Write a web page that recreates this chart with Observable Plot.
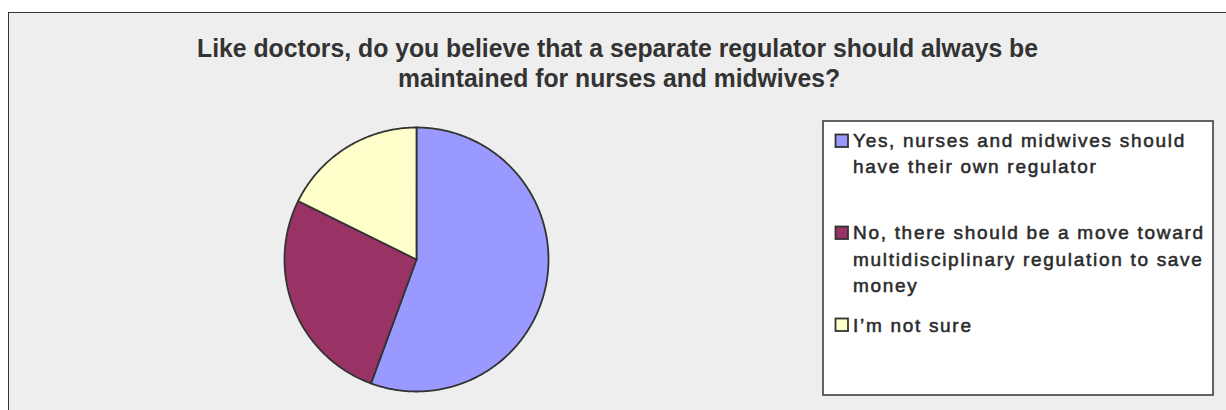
<!DOCTYPE html>
<html>
<head>
<meta charset="utf-8">
<script src="https://cdn.jsdelivr.net/npm/d3@7"></script>
<script src="https://cdn.jsdelivr.net/npm/@observablehq/plot@0.6"></script>
<style>
  html, body { margin: 0; padding: 0; background: #ffffff; }
  #root { position: relative; width: 1226px; height: 410px; overflow: hidden; font-family: "Liberation Sans", Arial, sans-serif; }
  #frame { position: absolute; left: 8px; top: 12px; width: 1240px; height: 420px; background: #eeeeee;
           border-top: 1.5px solid #333333; border-left: 1.5px solid #333333; box-sizing: border-box; }
  #pie { position: absolute; left: 266px; top: 109px; }
  #overlay { position: absolute; left: 0; top: 0; }
</style>
</head>
<body>
<div id="root">
  <div id="frame"></div>
  <div id="pie"></div>
  <svg id="overlay" width="1226" height="410"></svg>
</div>
<script>
// ---- data ----
const titleLines = [
  "Like doctors, do you believe that a separate regulator should always be",
  "maintained for nurses and midwives?"
];
const legendLines = [
  ["Yes, nurses and midwives should", "have their own regulator"],
  ["No, there should be a move toward", "multidisciplinary regulation to save", "money"],
  ["I\u2019m not sure"]
];
const categories = legendLines.map(l => l.join(" "));
const shares = [55.6, 26.7, 17.7];          // percent of respondents
const colors = ["#9999FF", "#993366", "#FFFFCC"];

// ---- pie via Plot ----
const arcs = d3.pie().sort(null).value(d => d)(shares);
const pts = [];
arcs.forEach((a, i) => {
  const cat = categories[i];
  pts.push({cat, x: 0, y: 0});
  const n = Math.max(2, Math.ceil((a.endAngle - a.startAngle) / (Math.PI / 360)));
  for (let k = 0; k <= n; k++) {
    const t = a.startAngle + (a.endAngle - a.startAngle) * k / n;
    pts.push({cat, x: Math.sin(t), y: Math.cos(t)});
  }
  pts.push({cat, x: 0, y: 0});
});

const chart = Plot.plot({
  width: 300, height: 300, margin: 18,
  x: {domain: [-1, 1], axis: null},
  y: {domain: [-1, 1], axis: null},
  color: {domain: categories, range: colors},
  style: {background: "transparent", overflow: "visible"},
  marks: [
    Plot.line(pts, {x: "x", y: "y", z: "cat", fill: "cat", stroke: "#333333", strokeWidth: 1.8, strokeLinejoin: "round", curve: "linear"})
  ]
});
document.getElementById("pie").appendChild(chart);

// ---- title & legend ----
const svg = d3.select("#overlay");
const titleSpec = [{x: 197, y: 56.7, w: 841}, {x: 398, y: 86.7, w: 442}];
titleLines.forEach((t, i) => {
  svg.append("text")
    .attr("x", titleSpec[i].x).attr("y", titleSpec[i].y)
    .attr("textLength", titleSpec[i].w).attr("lengthAdjust", "spacingAndGlyphs")
    .attr("font-family", "'Liberation Sans', Arial, sans-serif")
    .attr("font-weight", "bold").attr("font-size", 25).attr("fill", "#333333")
    .text(t);
});

svg.append("rect").attr("x", 823).attr("y", 121).attr("width", 390).attr("height", 274)
  .attr("fill", "#ffffff").attr("stroke", "#333333").attr("stroke-width", 1.5);

const swatchTop = [134.5, 226.5, 318.5];
const baseTop = [146.7, 239.3, 331.7];
legendLines.forEach((lines, i) => {
  svg.append("rect").attr("x", 835.5).attr("y", swatchTop[i]).attr("width", 12.5).attr("height", 12.5)
    .attr("fill", colors[i]).attr("stroke", "#333333").attr("stroke-width", 1.8);
  lines.forEach((ln, j) => {
    svg.append("text")
      .attr("x", 853).attr("y", baseTop[i] + j * 26.2)
      .attr("font-family", "'Liberation Sans', Arial, sans-serif")
      .attr("font-size", 19).attr("fill", "#2b2b2b")
      .attr("stroke", "#2b2b2b").attr("stroke-width", 0.55)
      .attr("letter-spacing", 1.7)
      .text(ln);
  });
});
</script>
</body>
</html>
